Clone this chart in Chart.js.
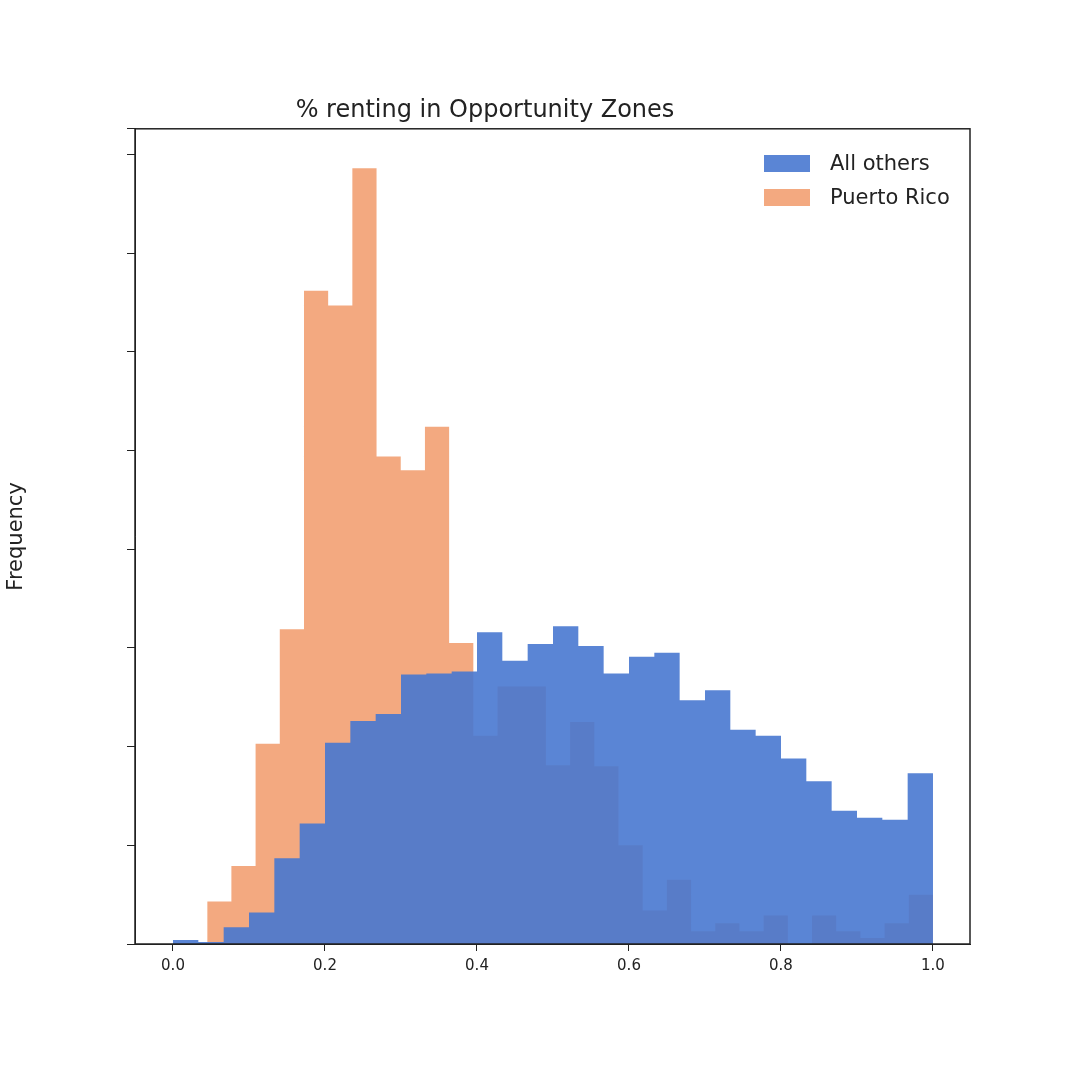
<!DOCTYPE html>
<html>
<head>
<meta charset="utf-8">
<script src="https://cdn.jsdelivr.net/npm/chart.js@4/dist/chart.umd.min.js"></script>
<style>
  body { margin: 0; background: #fff; }
  #wrap { position: relative; width: 1080px; height: 1080px; }
  #legend { position: absolute; left: 764px; top: 146px; font: 21px "DejaVu Sans", sans-serif; color: #222; }
  #legend div { display: flex; align-items: center; height: 34px; }
  #legend span { display: inline-block; width: 46px; height: 17px; margin-right: 20px; }
</style>
</head>
<body>
<div id="wrap">
<canvas id="c" width="1080" height="1080"></canvas>
<div id="legend">
  <div><span style="background:rgba(72,120,208,0.9)"></span>All others</div>
  <div><span style="background:rgba(238,133,74,0.7)"></span>Puerto Rico</div>
</div>
</div>
<script>
// bin ranges and counts (y units are unlabelled ticks)
const othersRange = [0.0, 1.0];
const others = [0.04, 0.02, 0.17, 0.32, 0.87, 1.22, 2.04, 2.26, 2.33, 2.73,
    2.74, 2.76, 3.16, 2.87, 3.04, 3.22, 3.02, 2.74, 2.91, 2.95,
    2.47, 2.57, 2.17, 2.11, 1.88, 1.65, 1.35, 1.28, 1.26, 1.73];
const prRange = [0.045, 1.0];
const puertoRico = [0.43, 0.79, 2.03, 3.19, 6.62, 6.47, 7.86, 4.94, 4.80, 5.24,
    3.05, 2.11, 2.61, 2.61, 1.81, 2.25, 1.80, 1.00, 0.34, 0.65,
    0.13, 0.21, 0.13, 0.29, 0, 0.29, 0.13, 0.06, 0.21, 0.50];
const xTicks = [0.0, 0.2, 0.4, 0.6, 0.8, 1.0];

function histPoints(range, counts) {
    const w = (range[1] - range[0]) / counts.length;
    const pts = counts.map((v, i) => ({ x: range[0] + i * w, y: v }));
    pts.push({ x: range[1], y: 0 });
    return pts;
}

const frame = {
    id: "frame",
    afterDraw(chart) {
        const a = chart.chartArea, ctx = chart.ctx;
        ctx.save();
        ctx.strokeStyle = "#222";
        ctx.lineWidth = 1.5;
        ctx.strokeRect(a.left, a.top, a.right - a.left, a.bottom - a.top);
        ctx.restore();
    }
};

new Chart(document.getElementById("c"), {
    type: "line",
    data: {
        datasets: [
            {
                label: "All others",
                data: histPoints(othersRange, others),
                stepped: "before",
                fill: "origin",
                backgroundColor: "rgba(72,120,208,0.9)",
                borderWidth: 0,
                pointRadius: 0
            },
            {
                label: "Puerto Rico",
                data: histPoints(prRange, puertoRico),
                stepped: "before",
                fill: "origin",
                backgroundColor: "rgba(238,133,74,0.7)",
                borderWidth: 0,
                pointRadius: 0
            }
        ]
    },
    options: {
        responsive: false,
        animation: false,
        layout: { padding: { left: 0, right: 110, top: 0, bottom: 0 } },
        plugins: {
            legend: { display: false },
            tooltip: { enabled: false },
            title: {
                display: true,
                text: "% renting in Opportunity Zones",
                color: "#222",
                font: { family: "DejaVu Sans", size: 24, weight: "normal" },
                padding: { top: 96, bottom: 4 }
            }
        },
        scales: {
            x: {
                type: "linear",
                min: -0.05,
                max: 1.0487,
                afterFit: s => { s.height = 136; },
                afterBuildTicks: s => { s.ticks = xTicks.map(v => ({ value: v })); },
                grid: { drawOnChartArea: false, tickLength: 7, color: "#222" },
                border: { color: "#222" },
                ticks: {
                    color: "#222",
                    font: { family: "DejaVu Sans", size: 15 },
                    padding: 6,
                    callback: v => v.toFixed(1)
                }
            },
            y: {
                min: 0,
                max: 8.26,
                afterFit: s => { s.width = 135; },
                grid: { drawOnChartArea: false, tickLength: 8, color: "#222" },
                border: { color: "#222" },
                ticks: { stepSize: 1, callback: () => "" },
                title: {
                    display: true,
                    text: "Frequency",
                    color: "#222",
                    font: { family: "DejaVu Sans", size: 21 },
                    padding: { bottom: 8 }
                }
            }
        }
    },
    plugins: [frame]
});
</script>
</body>
</html>
